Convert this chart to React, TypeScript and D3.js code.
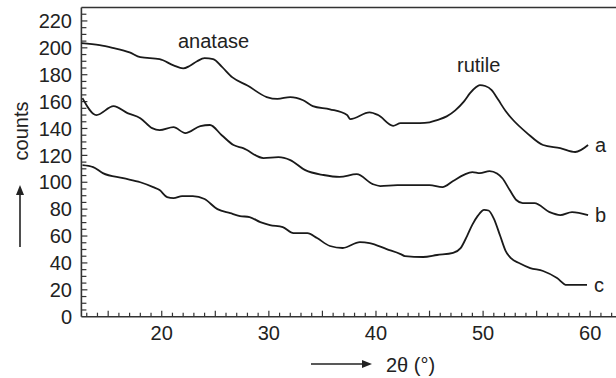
import React, { useEffect, useRef } from 'react';
import * as d3 from 'd3';

// digitized XRD patterns: [2theta, counts]
const seriesA: [number, number][] = [
  [12.5, 203.5], [14.2, 202], [15.4, 200], [17.0, 196.6], [18.0, 193], [19.8, 191.6],
  [21.1, 187], [22.0, 184.7], [22.6, 186.5], [23.3, 190], [24.0, 192.3], [24.8, 191.6],
  [25.6, 186], [26.6, 178], [28.0, 172], [29.8, 163.4], [30.8, 162], [32.0, 163.4],
  [33.2, 161], [34.1, 156.7], [35.7, 154.3], [37.3, 150], [37.6, 147], [39.4, 152],
  [40.2, 150], [41.6, 142], [42.3, 144], [44.1, 144], [45.0, 144.6], [45.7, 146.3],
  [46.6, 149], [47.4, 153.5], [48.2, 160], [48.8, 166.5], [49.3, 170.5], [49.7, 172.3],
  [50.2, 171.6], [50.8, 168.5], [51.4, 161.5], [52.1, 153], [52.8, 146.3], [54.1, 136.6],
  [55.6, 127.7], [57.2, 125.4], [58.6, 122.5], [59.8, 127.7],
];

const seriesB: [number, number][] = [
  [12.6, 162.6], [13.9, 150], [15.5, 156.6], [16.8, 151.4], [18.0, 147.7], [19.1, 140.3],
  [19.8, 138.8], [21.1, 141], [22.2, 136.6], [23.6, 141.8], [24.5, 142.6], [25.6, 135],
  [26.7, 127.7], [27.6, 125.4], [29.5, 118], [30.9, 118.7], [32.0, 116.5], [33.4, 109],
  [35.1, 105.4], [36.6, 104], [38.2, 106], [39.7, 98.6], [40.4, 97.2], [42.0, 97.9],
  [43.2, 97.9], [45.0, 97.9], [46.2, 96.4], [47.2, 101], [48.2, 105.5], [49.0, 107.6],
  [49.7, 106.8], [50.6, 108.3], [51.3, 106.5], [51.8, 103], [52.5, 94], [53.1, 86.8],
  [53.7, 84.5], [54.8, 84.5], [56.2, 77.8], [57.2, 75.6], [58.3, 77.8], [59.8, 75.6],
];

const seriesC: [number, number][] = [
  [12.6, 112.8], [13.6, 111.3], [14.5, 106.8], [16.4, 103], [18.0, 100], [19.2, 96.4],
  [19.8, 94.2], [20.5, 89], [21.1, 88.2], [21.9, 89.7], [22.9, 89.7], [24.0, 87.5],
  [25.2, 80], [26.4, 77], [27.3, 74.9], [28.2, 74.1], [29.2, 70.4], [30.1, 68.2],
  [31.3, 66.7], [32.3, 62.2], [33.6, 62.2], [34.5, 58.5], [35.7, 52.6], [36.9, 51.1],
  [38.5, 55.5], [39.4, 54.8], [41.0, 50.3], [42.3, 46.6], [42.7, 45.1], [44.4, 44.4],
  [45.7, 45.9], [47.2, 47.5], [47.9, 51], [48.5, 60], [49.0, 68.5], [49.5, 75],
  [50.1, 79.5], [50.5, 79], [51.0, 73], [51.6, 60], [52.1, 49], [52.6, 43.5],
  [53.4, 39.8], [54.4, 36.2], [55.6, 34], [56.9, 28.8], [57.8, 23.6], [59.7, 23.6],
];

const seriesLabels = ['a', 'b', 'c'];
const xTicks = [20, 30, 40, 50, 60];
const yTicks = [0, 20, 40, 60, 80, 100, 120, 140, 160, 180, 200, 220];

const App = () => {
  const svgRef = useRef<SVGSVGElement>(null);

  useEffect(() => {
    const width = 616;
    const height = 378;
    const font = '"Liberation Sans", Arial, sans-serif';
    const ink = '#222';

    const svg = d3.select(svgRef.current);
    svg.selectAll('*').remove();
    svg.attr('width', width).attr('height', height);

    const x = d3.scaleLinear().domain([12.5, 62.5]).range([81.4, 617]);
    const y = d3.scaleLinear().domain([0, 230]).range([316.7, 7.5]);

    // frame: left axis, bottom axis, top line
    const axis = svg.append('g').attr('stroke', '#333').attr('stroke-width', 1.6);
    axis.append('line').attr('x1', x(12.5)).attr('x2', x(62.5)).attr('y1', y(0)).attr('y2', y(0));
    axis.append('line').attr('x1', x(12.5)).attr('x2', x(62.5)).attr('y1', y(230)).attr('y2', y(230));
    axis.append('line').attr('x1', x(12.5)).attr('x2', x(12.5)).attr('y1', y(0)).attr('y2', y(230));

    // x ticks every 1 deg, pointing up
    d3.range(13, 63).forEach(v => {
      const len = v % 5 === 0 ? 6 : 4;
      axis.append('line')
        .attr('x1', x(v)).attr('x2', x(v))
        .attr('y1', y(0)).attr('y2', y(0) - len)
        .attr('stroke-width', 1.2);
    });
    // y ticks every 5, pointing right
    d3.range(5, 230, 5).forEach(v => {
      axis.append('line')
        .attr('x1', x(12.5)).attr('x2', x(12.5) + (v % 20 === 0 ? 6 : 5))
        .attr('y1', y(v)).attr('y2', y(v))
        .attr('stroke-width', 1.2);
    });

    const txt = svg.append('g').attr('font-family', font).attr('font-size', 20).attr('fill', ink);

    xTicks.forEach(v => {
      txt.append('text').attr('x', x(v)).attr('y', 340).attr('text-anchor', 'middle').text(v);
    });
    yTicks.forEach(v => {
      txt.append('text').attr('x', 72).attr('y', y(v)).attr('dy', '0.36em')
        .attr('text-anchor', 'end').text(v);
    });

    // curves
    const line = d3.line<[number, number]>()
      .x(d => x(d[0]))
      .y(d => y(d[1]))
      .curve(d3.curveMonotoneX);
    [seriesA, seriesB, seriesC].forEach((s, i) => {
      svg.append('path')
        .attr('d', line(s))
        .attr('fill', 'none')
        .attr('stroke', '#1a1a1a')
        .attr('stroke-width', 1.8)
        .attr('stroke-linejoin', 'round');
      const last = s[s.length - 1];
      txt.append('text')
        .attr('x', x(last[0]) + 7)
        .attr('y', y(last[1]) + 7)
        .text(seriesLabels[i]);
    });

    // phase annotations
    txt.append('text').attr('x', 178).attr('y', 48).text('anatase');
    txt.append('text').attr('x', 457).attr('y', 72).text('rutile');

    // y title with arrow
    txt.append('text')
      .attr('transform', 'translate(28,131) rotate(-90)')
      .attr('text-anchor', 'middle')
      .text('counts');
    svg.append('line').attr('x1', 20).attr('x2', 20).attr('y1', 247).attr('y2', 192)
      .attr('stroke', ink).attr('stroke-width', 1.6);
    svg.append('path').attr('d', 'M20,185 L16,195 L24,195 Z').attr('fill', ink);

    // x title with arrow
    svg.append('line').attr('x1', 311).attr('x2', 364).attr('y1', 364).attr('y2', 364)
      .attr('stroke', ink).attr('stroke-width', 1.6);
    svg.append('path').attr('d', 'M372,364 L362,360 L362,368 Z').attr('fill', ink);
    txt.append('text').attr('x', 386).attr('y', 372).text('2θ (°)');
  }, []);

  return (
    <div className="xrd-plot">
      <svg ref={svgRef} style={{ position: 'absolute', left: 0, top: 0, display: 'block' }}></svg>
    </div>
  );
};

export default App;
